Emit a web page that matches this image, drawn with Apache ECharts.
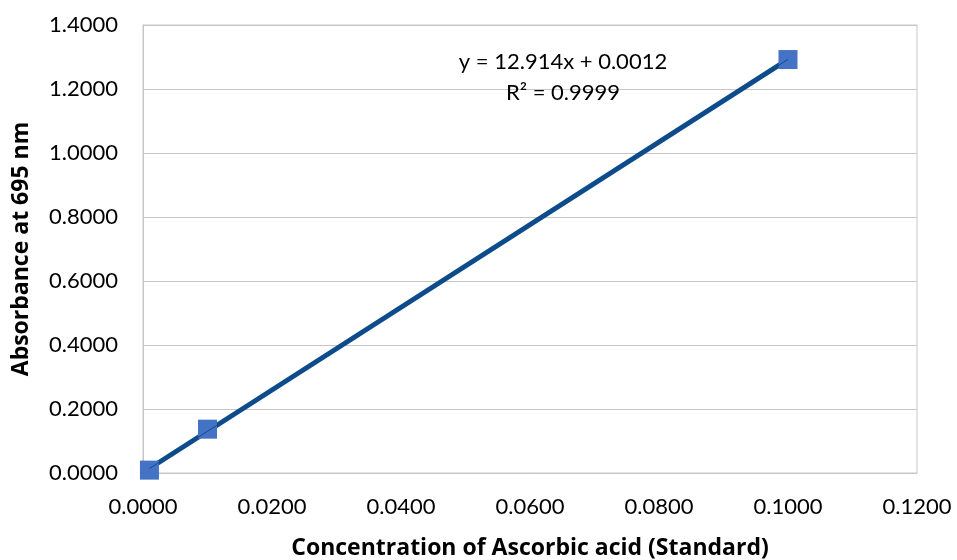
<!DOCTYPE html>
<html>
<head>
<meta charset="utf-8">
<script src="https://cdn.jsdelivr.net/npm/echarts@6/dist/echarts.min.js"></script>
<style>
  html, body { margin: 0; padding: 0; background: #fff; }
  #chart { width: 957px; height: 560px; }
</style>
</head>
<body>
<div id="chart"></div>
<script>
// standard curve data
var concentration = [0.001, 0.01, 0.1];
var absorbance = [0.009, 0.137, 1.292];
// trendline as printed on the chart
var trendSlope = 12.914;
var trendIntercept = 0.0012;
var trendText = ['y = 12.914x + 0.0012', 'R\u00b2 = 0.9999'];

var fontName = 'Lato, "Open Sans", sans-serif';
var titleFont = '"Open Sans", Lato, sans-serif';

function initChart() {
    var dom = document.getElementById('chart');
    var myChart = echarts.init(dom);

    var points = concentration.map(function(x, i) { return [x, absorbance[i]]; });
    var xLo = Math.min.apply(null, concentration);
    var xHi = Math.max.apply(null, concentration);
    var trend = [
        [xLo, trendSlope * xLo + trendIntercept],
        [xHi, trendSlope * xHi + trendIntercept]
    ];

    var option = {
        animation: false,
        backgroundColor: '#fff',
        textStyle: { fontFamily: fontName },
        grid: {
            left: 143,
            right: 40,
            top: 25,
            bottom: 87,
            outerBoundsMode: 'none',
            containLabel: false,
            show: true,
            borderColor: '#c6c6c6',
            borderWidth: 1
        },
        xAxis: {
            type: 'value',
            min: 0,
            max: 0.12,
            interval: 0.02,
            name: 'Concentration of Ascorbic acid (Standard)',
            nameLocation: 'middle',
            nameGap: 64,
            nameTextStyle: { color: '#000', fontSize: 23, fontWeight: 'bold', fontFamily: titleFont },
            axisLine: { show: true, lineStyle: { color: '#c6c6c6' } },
            axisTick: { show: false },
            splitLine: { show: false },
            axisLabel: {
                color: '#000',
                fontSize: 22,
                margin: 23,
                formatter: function(v) { return v.toFixed(4); }
            }
        },
        yAxis: {
            type: 'value',
            min: 0,
            max: 1.4,
            interval: 0.2,
            name: 'Absorbance at 695 nm',
            nameLocation: 'middle',
            nameGap: 110,
            nameRotate: 90,
            nameTextStyle: { color: '#000', fontSize: 23, fontWeight: 'bold', fontFamily: titleFont },
            axisLine: { show: true, lineStyle: { color: '#c6c6c6' } },
            axisTick: { show: false },
            splitLine: { show: true, lineStyle: { color: '#c6c6c6' } },
            axisLabel: {
                color: '#000',
                fontSize: 22,
                margin: 25,
                formatter: function(v) { return v.toFixed(4); }
            }
        },
        graphic: [{
            type: 'text',
            x: 563,
            y: 77,
            style: {
                text: trendText.join('\n'),
                fill: '#000',
                font: '22px ' + fontName,
                textAlign: 'center',
                textVerticalAlign: 'middle',
                lineHeight: 31
            },
            z: 10
        }],
        series: [{
                name: 'trend',
                type: 'line',
                data: trend,
                symbol: 'none',
                lineStyle: { color: '#0d4b8b', width: 5 },
                z: 2
            },
            {
                name: 'Absorbance',
                type: 'scatter',
                data: points,
                symbol: 'rect',
                symbolSize: 19,
                itemStyle: { color: '#4472c4', opacity: 1 },
                z: 3
            },
            {
                name: 'trend-thin',
                type: 'line',
                data: trend,
                symbol: 'none',
                lineStyle: { color: '#0d4b8b', width: 1 },
                z: 4
            }
        ]
    };

    myChart.setOption(option, true);
    window.onresize = myChart.resize;
}

initChart();
</script>
</body>
</html>
